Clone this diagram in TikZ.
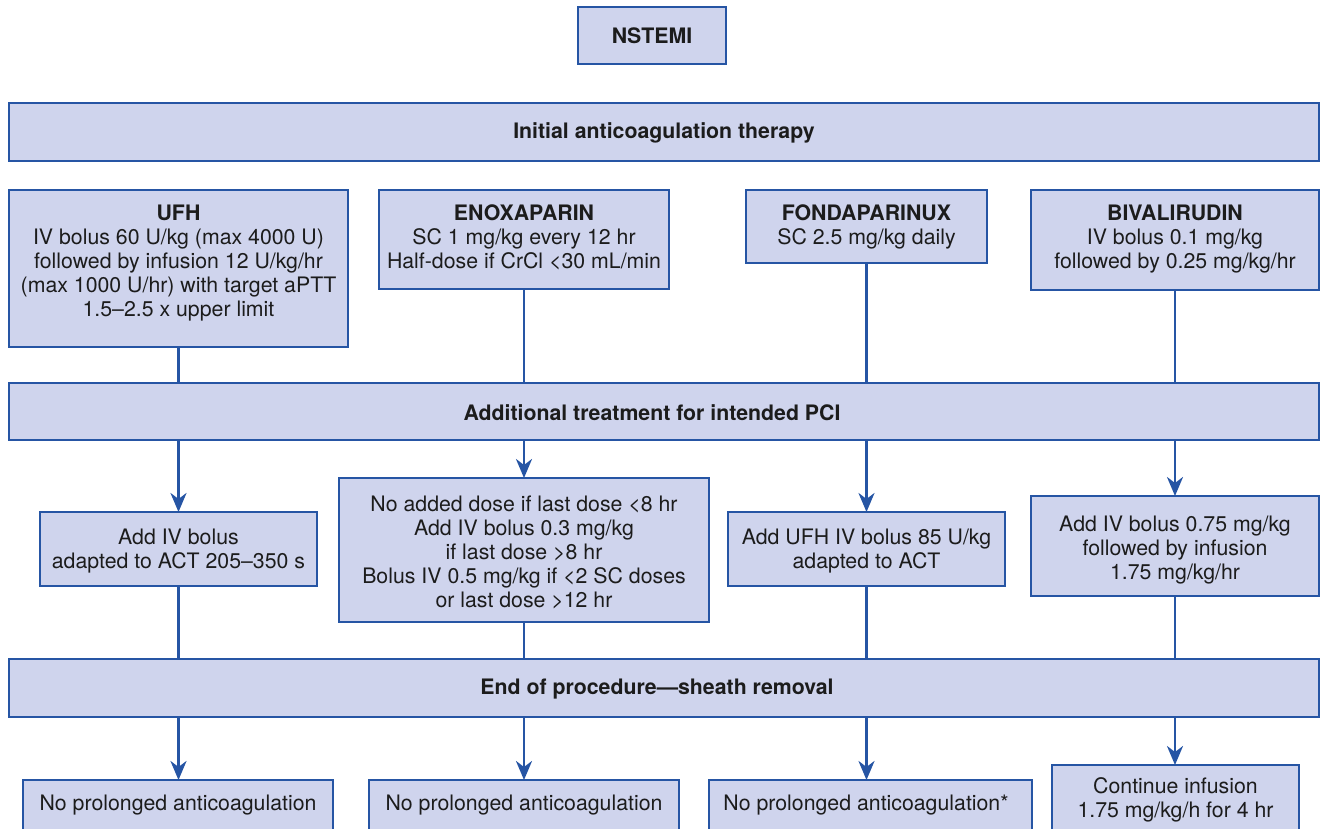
\documentclass[tikz,border=0pt]{standalone}
\usepackage{fontspec}
\setmainfont{TeX Gyre Heros}
\usetikzlibrary{arrows.meta}
\definecolor{boxfill}{RGB}{207,212,237}
\definecolor{boxedge}{RGB}{38,85,164}
\definecolor{ink}{RGB}{28,28,28}
% box from its corners (x1,y1) to (x2,y2), y measured downwards
\newcommand\mkbox[5]{\node[box, minimum width={#4-#2}, minimum height={#5-#3}] (#1) at (#2,#3) {};}
\begin{document}
\begin{tikzpicture}[x=1pt,y=-1pt,
  box/.style={draw=boxedge, fill=boxfill, line width=2pt, inner sep=0pt, outer sep=0pt, anchor=north west},
  txt/.style={text=ink, align=center, inner sep=0pt, font=\fontsize{21.3}{24}\selectfont},
  hd/.style={txt, font=\fontsize{21.3}{24}\selectfont\bfseries},
  link/.style={draw=boxedge, line width=2.8pt},
  arr/.style={link, -{Stealth[length=19pt,width=16pt,inset=6pt]}}]
\clip (0,0) rectangle (1320,829);

% top
\mkbox{nstemi}{578}{7}{726}{64}
\node[hd] (nstemiT) at (nstemi) {NSTEMI};
\mkbox{initbar}{9}{103}{1319}{161}
\node[hd] (initT) at (664,133) {Initial anticoagulation therapy};

% drug boxes
\mkbox{ufh}{9}{190}{348}{347}
\mkbox{enox}{379}{190}{669}{289}
\mkbox{fonda}{746}{190}{987}{263}
\mkbox{bival}{1031}{190}{1319}{290}
\node[txt, anchor=north] (ufhT) at (178.5,205) {\textbf{UFH}\\IV bolus 60 U/kg (max 4000 U)\\followed by infusion 12 U/kg/hr\\(max 1000 U/hr) with target aPTT\\1.5–2.5 x upper limit};
\node[txt, anchor=north] (enoxT) at (524,205) {\textbf{ENOXAPARIN}\\SC 1 mg/kg every 12 hr\\Half-dose if CrCl <30 mL/min};
\node[txt, anchor=north] (fondaT) at (866.5,205) {\textbf{FONDAPARINUX}\\SC 2.5 mg/kg daily};
\node[txt, anchor=north] (bivalT) at (1175,205) {\textbf{BIVALIRUDIN}\\IV bolus 0.1 mg/kg\\followed by 0.25 mg/kg/hr};

% PCI
\mkbox{addbar}{9}{383}{1319}{440}
\node[hd] (addT) at (652,412.5) {Additional treatment for intended PCI};
\mkbox{ufhA}{40}{512}{317}{586}
\mkbox{enoxA}{339}{478}{709}{622}
\mkbox{fondaA}{728}{512}{1005}{586}
\mkbox{bivalA}{1031}{496}{1319}{596}
\node[txt] (ufhAT) at (178.5,551) {Add IV bolus\\adapted to ACT 205–350 s};
\node[txt] (enoxAT) at (524,552) {No added dose if last dose <8 hr\\Add IV bolus 0.3 mg/kg\\if last dose >8 hr\\Bolus IV 0.5 mg/kg if <2 SC doses\\or last dose >12 hr};
\node[txt] (fondaAT) at (866.5,551) {Add UFH IV bolus 85 U/kg\\adapted to ACT};
\node[txt] (bivalAT) at (1175,550) {Add IV bolus 0.75 mg/kg\\followed by infusion\\1.75 mg/kg/hr};

% end of procedure
\mkbox{endbar}{9}{659}{1319}{717}
\node[hd] (endT) at (657,689) {End of procedure—sheath removal};
\mkbox{ufhB}{23}{780}{333}{834}
\mkbox{enoxB}{369}{780}{679}{834}
\mkbox{fondaB}{709}{780}{1032}{834}
\mkbox{bivalB}{1052}{765}{1299}{834}
\node[txt] (ufhBT) at (178,805) {No prolonged anticoagulation};
\node[txt] (enoxBT) at (524,805) {No prolonged anticoagulation};
\node[txt] (fondaBT) at (866,805) {No prolonged anticoagulation*};
\node[txt] (bivalBT) at (1175.5,800) {Continue infusion\\1.75 mg/kg/h for 4 hr};

% connectors
\foreach \a/\b/\c in {ufh/ufhA/ufhB, enox/enoxA/enoxB, fonda/fondaA/fondaB, bival/bivalA/bivalB}{
  \draw[link] (\a.south) -- (\a.south |- addbar.north);
  \draw[arr] (addbar.south -| \b.north) -- (\b.north);
  \draw[link] (\b.south) -- (\b.south |- endbar.north);
  \draw[arr] (endbar.south -| \b.south) -- (\b.south |- \c.north);
}
\end{tikzpicture}
\end{document}
